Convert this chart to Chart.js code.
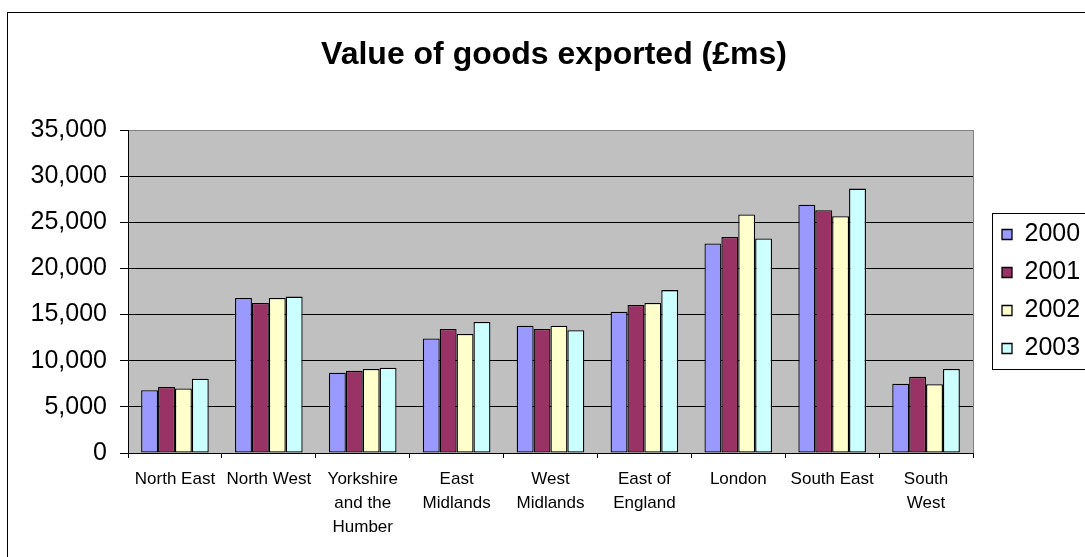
<!DOCTYPE html>
<html>
<head>
<meta charset="utf-8">
<title>Value of goods exported</title>
<script src="https://cdn.jsdelivr.net/npm/chart.js@4.4.1/dist/chart.umd.min.js"></script>
<style>
    html, body { margin: 0; padding: 0; background: #fff; }
    #wrap { width: 1085px; height: 557px; position: relative; }
</style>
</head>
<body>
<div id="wrap"><canvas id="exports"></canvas></div>
<script>
// Regions and export values (£ millions) per year.
const regions = [
    ['North East'], ['North West'], ['Yorkshire', 'and the', 'Humber'],
    ['East', 'Midlands'], ['West', 'Midlands'], ['East of', 'England'],
    ['London'], ['South East'], ['South', 'West'],
];
const years = ['2000', '2001', '2002', '2003'];
const exports2000 = [6800, 16800, 8700, 12400, 13800, 15300, 22700, 26900, 7500];
const exports2001 = [7150, 16250, 8900, 13450, 13450, 16050, 23400, 26300, 8250];
const exports2002 = [7000, 16800, 9100, 12900, 13800, 16250, 25850, 25650, 7450];
const exports2003 = [8050, 16950, 9250, 14200, 13300, 17650, 23250, 28650, 9100];
const yTicks = [0, 5000, 10000, 15000, 20000, 25000, 30000, 35000];

const seriesValues = [exports2000, exports2001, exports2002, exports2003];
const fills = ['#9999FF', '#993366', '#FFFFCC', '#CCFFFF'];
const FONT = 'Arial, "Liberation Sans", sans-serif';

// White page, outer frame and grey plot area behind the grid.
const frame = {
    id: 'frame',
    beforeDraw(chart) {
        const { ctx, chartArea: a } = chart;
        ctx.save();
        ctx.fillStyle = '#fff';
        ctx.fillRect(0, 0, chart.width, chart.height);
        ctx.strokeStyle = '#000';
        ctx.lineWidth = 1;
        ctx.strokeRect(7.5, 12.5, chart.width + 20, chart.height + 20);
        ctx.fillStyle = '#C0C0C0';
        ctx.fillRect(a.left, a.top, a.right - a.left, a.bottom - a.top);
        ctx.restore();
    },
    beforeDatasetsDraw(chart) {
        const { ctx, chartArea: a } = chart;
        ctx.save();
        ctx.strokeStyle = '#808080';
        ctx.lineWidth = 1;
        ctx.beginPath();
        const x = Math.round(a.right) + 0.5;
        ctx.moveTo(x, a.top);
        ctx.lineTo(x, a.bottom);
        ctx.stroke();
        ctx.restore();
    },
    afterDraw(chart) {
        // box round the legend, open on the right like the page edge
        const lg = chart.legend;
        const hb = lg.legendHitBoxes;
        if (!hb || !hb.length) return;
        const { ctx } = chart;
        const top = Math.round(hb[0].top) - 8.5;
        const bottom = Math.round(hb[hb.length - 1].top + hb[hb.length - 1].height) + 8.5;
        const left = Math.round(lg.left) + 3.5;
        ctx.save();
        ctx.strokeStyle = '#000';
        ctx.lineWidth = 1;
        ctx.strokeRect(left, top, chart.width, bottom - top);
        ctx.restore();
    },
};

new Chart(document.getElementById('exports'), {
    type: 'bar',
    data: {
        labels: regions,
        datasets: years.map((y, i) => ({
            label: y,
            data: seriesValues[i],
            backgroundColor: fills[i],
            borderColor: '#000',
            borderWidth: 1.3,
            borderSkipped: false,
            categoryPercentage: 0.72,
            barPercentage: 1,
        })),
    },
    options: {
        responsive: true,
        maintainAspectRatio: false,
        animation: false,
        layout: { padding: { left: 23, right: 0, top: 0, bottom: 0 } },
        plugins: {
            title: {
                display: true,
                text: 'Value of goods exported (£ms)',
                color: '#000',
                font: { family: FONT, size: 32, weight: 'bold', lineHeight: 1.2 },
                padding: { top: 36, bottom: 55.6 },
            },
            legend: {
                position: 'right',
                fullSize: false,
                maxWidth: 96,
                labels: {
                    color: '#000',
                    font: { family: FONT, size: 25 },
                    boxWidth: 10,
                    boxHeight: 10,
                    padding: 13,
                },
            },
            tooltip: { enabled: false },
        },
        scales: {
            x: {
                grid: { display: true, drawOnChartArea: false, offset: true, tickLength: 5, color: '#000' },
                border: { color: '#000' },
                ticks: {
                    color: '#000',
                    font: { family: FONT, size: 17, lineHeight: 24 / 17 },
                    padding: 9,
                    maxRotation: 0,
                    autoSkip: false,
                },
                afterFit: s => { s.height = 104; },
            },
            y: {
                min: 0,
                max: 35000,
                afterBuildTicks: s => { s.ticks = yTicks.map(v => ({ value: v })); },
                grid: {
                    color: c => (c.tick && c.tick.value === 35000 ? '#808080' : '#000'),
                    tickColor: '#000',
                    tickLength: 8,
                },
                border: { color: '#000' },
                ticks: {
                    color: '#000',
                    font: { family: FONT, size: 25 },
                    padding: 13,
                    callback: v => v.toLocaleString('en-GB'),
                },
                afterFit: s => { s.width = 105; },
            },
            // spacer between the plot and the legend
            gap: {
                type: 'linear',
                axis: 'y',
                position: 'right',
                grid: { display: false },
                border: { display: false },
                ticks: { display: false },
                afterFit: s => { s.width = 16; },
            },
        },
    },
    plugins: [frame],
});
</script>
</body>
</html>
